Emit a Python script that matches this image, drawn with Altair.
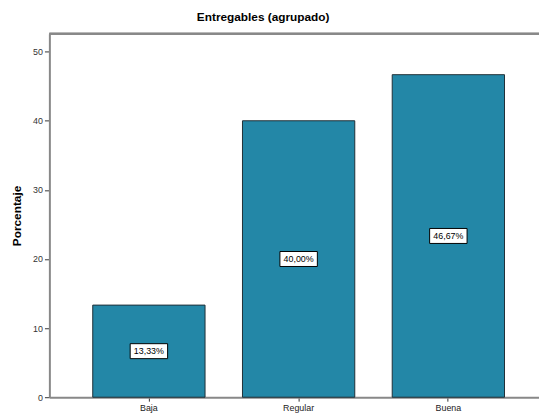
import altair as alt
import pandas as pd

categories = ["Baja", "Regular", "Buena"]
values = [13.33, 40.00, 46.67]
labels = ["13,33%", "40,00%", "46,67%"]

df = pd.DataFrame({"cat": categories, "value": values, "label": labels})

FONT = "Arial, Liberation Sans"
W, H = 497, 369

base = alt.Chart(df)

x_enc = alt.X(
    "cat:N",
    sort=categories,
    scale=alt.Scale(paddingInner=0.25, paddingOuter=0.26, align=0.557),
    axis=alt.Axis(
        title=None, labelAngle=0, labelFontSize=9, labelFont=FONT,
        labelColor="#222222", tickSize=4, tickColor="#333333",
        domainColor="#888888", domainWidth=2, labelPadding=2,
    ),
)

y_scale = alt.Scale(domain=[0, 52.6], nice=False)

bars = base.mark_bar(color="#2387a7", stroke="#1f2f36", strokeWidth=1).encode(
    x=x_enc,
    y=alt.Y(
        "value:Q",
        scale=y_scale,
        axis=alt.Axis(
            title="Porcentaje", values=[0, 10, 20, 30, 40, 50], grid=False,
            labelFontSize=9, labelFont=FONT, labelColor="#333333",
            tickSize=5, tickColor="#333333", domainColor="#888888",
            domainWidth=2, labelPadding=2,
            titleFont=FONT, titleFontSize=12, titleFontWeight="bold",
            titleColor="#000000", titleX=-33, titleY=184.5,
            titleAngle=-90, titleAlign="center", titleBaseline="middle",
        ),
    ),
)

mid = base.transform_calculate(mid="datum.value / 2")

boxes = mid.mark_point(
    shape="M-1,-0.4L1,-0.4L1,0.4L-1,0.4Z", size=38 * 38,
    filled=True, fill="white", stroke="#000000", strokeWidth=1, opacity=1,
).encode(
    x=alt.X("cat:N", sort=categories),
    y=alt.Y("mid:Q", scale=y_scale),
)

texts = mid.mark_text(font=FONT, fontSize=9, color="#000000").encode(
    x=alt.X("cat:N", sort=categories),
    y=alt.Y("mid:Q", scale=y_scale),
    text="label:N",
)

top_rule = base.mark_rule(color="#888888", strokeWidth=2).encode(
    x=alt.value(0), x2=alt.value(W), y=alt.value(0)
)

chart = (
    alt.layer(bars, boxes, texts, top_rule)
    .properties(
        width=W,
        height=H,
        title=alt.TitleParams(
            "Entregables (agrupado)", font=FONT, fontSize=12, fontWeight="bold",
            color="#000000", anchor="middle", dx=-31.5, offset=0,
            baseline="alphabetic",
        ),
        autosize=alt.AutoSizeParams(type="none"),
        padding={"left": 42, "top": 23, "right": 0, "bottom": 18},
    )
    .configure_view(fill="#f0f0f0", stroke=None)
    .configure(background="white")
)

chart.save("out.html", embed_options={"renderer": "svg", "actions": False})
